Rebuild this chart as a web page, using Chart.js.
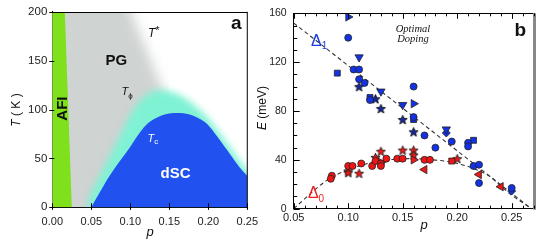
<!DOCTYPE html>
<html>
<head>
<meta charset="utf-8">
<script src="https://cdn.jsdelivr.net/npm/chart.js@4.4.1/dist/chart.umd.min.js"></script>
<style>
    html, body { margin: 0; padding: 0; background: #fff; }
    #wrap { position: relative; width: 545px; height: 248px; overflow: hidden; }
    #panelA { position: absolute; left: 0; top: 0; }
    #panelB { position: absolute; left: 250px; top: 0; }
</style>
</head>
<body>
<div id="wrap">
    <canvas id="panelA" width="266" height="248"></canvas>
    <canvas id="panelB" width="295" height="248"></canvas>
</div>
<script>
// ---- panel a: phase diagram boundaries (p, T in K) ----
const domeP  = [0.05, 0.06, 0.07, 0.08, 0.09, 0.10, 0.11, 0.12, 0.13, 0.14, 0.15, 0.16, 0.17, 0.18, 0.19, 0.20, 0.21, 0.22, 0.23, 0.24, 0.25];
const domeTc = [0, 14, 28, 40, 51, 62, 74, 84, 90, 94, 96, 96.5, 96, 94, 90, 84, 74, 63, 52, 41, 32];

const phiP = [0.04, 0.045, 0.06, 0.07, 0.08, 0.09, 0.10, 0.11, 0.12, 0.13, 0.14, 0.15, 0.16, 0.17, 0.18, 0.19, 0.20, 0.21, 0.22, 0.23, 0.24, 0.25, 0.26];
const phiT = [-30, 0, 31, 47, 63, 79, 95, 107, 115, 119, 120, 119, 116, 112, 106, 99, 91, 81, 70, 59, 48, 38, 32];

const pgP = [-0.01, 0.085, 0.101, 0.142, 0.148, 0.15];
const pgT = [230, 230, 200, 120, 105, -30];

const afiP = [-0.01, 0.0147, 0.0263];
const afiT = [230, 230, -30];

// ---- panel b: gaps E (meV) vs p ----
const blueCircles  = [[0.10, 140], [0.105, 114], [0.11, 114], [0.11, 106], [0.115, 103], [0.12, 89], [0.16, 100], [0.16, 75], [0.17, 60], [0.18, 50], [0.195, 55], [0.21, 54], [0.21, 51], [0.215, 35], [0.22, 36], [0.22, 21], [0.25, 17]];
const blueSquares  = [[0.09, 111], [0.12, 91], [0.16, 73], [0.215, 56]];
const blueDown     = [[0.11, 124], [0.13, 96], [0.15, 85], [0.19, 65]];
const blueRight    = [[0.10, 157], [0.16, 86]];
const blueStars    = [[0.11, 100], [0.125, 90], [0.13, 82], [0.15, 73], [0.16, 63]];
const blueDiamonds = [[0.19, 62], [0.25, 14.5]];

const redCircles = [[0.085, 27], [0.084, 24.5], [0.10, 35], [0.104, 35], [0.112, 37], [0.122, 35], [0.125, 39], [0.13, 37], [0.13, 35], [0.135, 41], [0.145, 41], [0.15, 41], [0.17, 40], [0.175, 40]];
const redStars   = [[0.10, 31], [0.10, 29.5], [0.11, 29], [0.125, 42], [0.13, 47], [0.15, 48], [0.16, 48], [0.16, 44], [0.20, 41]];
const redRight   = [[0.16, 40], [0.13, 38]];
const redLeft    = [[0.17, 32], [0.22, 28], [0.24, 18]];
const redSquares = [[0.195, 39]];

const delta1P = [0.05, 0.268];
const delta1E = [152, 0];
const delta0P = [0.05, 0.06, 0.07, 0.08, 0.09, 0.10, 0.11, 0.12, 0.13, 0.14, 0.15, 0.16, 0.17, 0.18, 0.19, 0.20, 0.21, 0.22, 0.23, 0.24, 0.25, 0.26, 0.268];
const delta0E = [0, 8, 16, 23, 28, 32, 35, 37.5, 39, 40.3, 40.8, 41, 40.5, 39.8, 38.8, 37, 34.5, 31, 26.5, 18.5, 11, 5, 0];

const FONT = '"Liberation Sans", Arial, sans-serif';
const SERIF = '"Liberation Serif", "Times New Roman", serif';

function xy(ps, vs) {
    return ps.map((p, i) => ({ x: p, y: vs[i] }));
}
function pairs(list) {
    return list.map(([x, y]) => ({ x, y }));
}

// Soft edges: blur the fill of datasets that ask for it (runs before the filler)
const softEdge = {
    id: 'softEdge',
    beforeDatasetDraw(chart, args) {
        const ds = chart.data.datasets[args.index];
        if (ds.blur) {
            chart.ctx.save();
            chart.ctx.filter = 'blur(' + ds.blur + 'px)';
        }
    },
    afterDatasetDraw(chart, args) {
        if (chart.data.datasets[args.index].blur) chart.ctx.restore();
    }
};
const fillerPlugin = Chart.registry.getPlugin('filler');
Chart.unregister(fillerPlugin);
Chart.register(softEdge, fillerPlugin);

// Text labels placed in data or pixel coordinates
function makeNotes(items) {
    return {
        id: 'notes',
        afterDraw(chart) {
            const { ctx, scales } = chart;
            items.forEach(n => {
                const cx = n.px !== undefined ? n.px : scales.x.getPixelForValue(n.x);
                const cy = n.py !== undefined ? n.py : scales.y.getPixelForValue(n.y);
                ctx.save();
                ctx.translate(cx, cy);
                if (n.rotate) ctx.rotate(n.rotate * Math.PI / 180);
                ctx.fillStyle = n.color || '#111';
                ctx.textBaseline = 'middle';
                ctx.textAlign = 'left';
                const widths = n.parts.map(p => { ctx.font = p.font; return ctx.measureText(p.t).width; });
                let cur = -widths.reduce((a, b) => a + b, 0) / 2;
                n.parts.forEach((p, i) => {
                    ctx.font = p.font;
                    ctx.fillText(p.t, cur, p.dy || 0);
                    cur += widths[i];
                });
                ctx.restore();
            });
        }
    };
}

// Frame (top/right) and tick marks drawn from the scales
function makeFrame(spec) {
    return {
        id: 'frame',
        afterDraw(chart) {
            const { ctx, chartArea: a, scales } = chart;
            ctx.save();
            ctx.strokeStyle = '#000';
            ctx.lineWidth = 1;
            ctx.beginPath();
            ctx.moveTo(a.left, Math.round(a.top) + 0.5);
            ctx.lineTo(a.right, Math.round(a.top) + 0.5);
            ctx.stroke();
            ctx.strokeStyle = spec.rightColor;
            ctx.lineWidth = spec.rightWidth;
            ctx.beginPath();
            ctx.moveTo(a.right + spec.rightWidth / 2 - 0.5, a.top);
            ctx.lineTo(a.right + spec.rightWidth / 2 - 0.5, a.bottom + 1);
            ctx.stroke();

            ctx.strokeStyle = '#000';
            ctx.lineWidth = 1;
            spec.ticks.forEach(t => {
                const sc = scales[t.edge === 'left' || t.edge === 'right' ? 'y' : 'x'];
                const i0 = Math.ceil(sc.min / t.step - 1e-6);
                const i1 = Math.floor(sc.max / t.step + 1e-6);
                for (let i = i0; i <= i1; i++) {
                    const pos = Math.round(sc.getPixelForValue(i * t.step)) + 0.5;
                    ctx.beginPath();
                    if (t.edge === 'bottom') {
                        ctx.moveTo(pos, a.bottom - t.from);
                        ctx.lineTo(pos, a.bottom - t.to);
                    } else if (t.edge === 'top') {
                        ctx.moveTo(pos, a.top + t.from);
                        ctx.lineTo(pos, a.top + t.to);
                    } else if (t.edge === 'left') {
                        ctx.moveTo(a.left + t.from, pos);
                        ctx.lineTo(a.left + t.to, pos);
                    }
                    ctx.stroke();
                }
            });
            ctx.restore();
        }
    };
}

function starImage(fill, stroke) {
    const c = document.createElement('canvas');
    c.width = 11;
    c.height = 11;
    const g = c.getContext('2d');
    g.beginPath();
    for (let i = 0; i < 10; i++) {
        const r = i % 2 ? 2.1 : 4.8;
        const ang = -Math.PI / 2 + i * Math.PI / 5;
        g.lineTo(5.5 + r * Math.cos(ang), 6 + r * Math.sin(ang));
    }
    g.closePath();
    g.fillStyle = fill;
    g.fill();
    g.lineWidth = 0.9;
    g.strokeStyle = stroke;
    g.stroke();
    return c;
}

// ---------------- panel a ----------------
const notesA = [
    { x: 0.236, y: 188, parts: [{ t: 'a', font: 'bold 19px ' + FONT }] },
    { x: 0.130, y: 178, parts: [{ t: 'T', font: 'italic 12px ' + FONT }, { t: '*', font: '11px ' + FONT, dy: -2 }] },
    { x: 0.082, y: 150, parts: [{ t: 'PG', font: 'bold 15px ' + FONT }] },
    { x: 0.096, y: 118, parts: [{ t: 'T', font: 'italic 11px ' + FONT }, { t: 'ϕ', font: '8px ' + FONT, dy: 4 }] },
    { x: 0.0135, y: 101, rotate: -90, parts: [{ t: 'AFI', font: 'bold 15px ' + FONT }] },
    { x: 0.129, y: 70, color: '#fff', parts: [{ t: 'T', font: 'italic 11px ' + FONT }, { t: 'c', font: '8px ' + FONT, dy: 3 }] },
    { x: 0.158, y: 34, color: '#fff', parts: [{ t: 'dSC', font: 'bold 15px ' + FONT }] },
    { px: 17, py: 110, rotate: -90, parts: [{ t: 'T', font: 'italic 12px ' + FONT }, { t: ' ( K )', font: '12px ' + FONT }] },
    { px: 150, py: 232, parts: [{ t: 'p', font: 'italic 13px ' + FONT }] }
];

new Chart(document.getElementById('panelA'), {
    type: 'scatter',
    data: {
        datasets: [
            // listed top layer first
            { data: xy(afiP, afiT), showLine: true, fill: { value: -40 }, backgroundColor: '#7fe01c', borderWidth: 0, pointRadius: 0 },
            { data: xy(domeP, domeTc), showLine: true, fill: { value: -40 }, backgroundColor: '#2152f0', borderWidth: 0, pointRadius: 0, cubicInterpolationMode: 'monotone' },
            { data: xy(phiP, phiT), showLine: true, fill: { value: -40 }, backgroundColor: '#80f2d4', borderWidth: 0, pointRadius: 0, cubicInterpolationMode: 'monotone', blur: 3.5 },
            { data: xy(pgP, pgT), showLine: true, fill: { value: -40 }, backgroundColor: '#cfd3d2', borderWidth: 0, pointRadius: 0, blur: 6 }
        ]
    },
    options: {
        responsive: false,
        animation: false,
        layout: { padding: { left: 0, top: 10, right: 17.7, bottom: 0 } },
        plugins: { legend: { display: false }, tooltip: { enabled: false } },
        scales: {
            x: {
                type: 'linear', min: 0, max: 0.25,
                afterFit: s => { s.height = 40.7; },
                grid: { display: false, drawTicks: false },
                border: { display: true, color: '#000', width: 1 },
                ticks: { stepSize: 0.05, padding: 8, color: '#222', font: { family: FONT, size: 11 }, callback: v => v.toFixed(2) }
            },
            y: {
                min: 0, max: 200,
                afterFit: s => { s.width = 52.3; },
                grid: { display: false, drawTicks: false },
                border: { display: true, color: '#000', width: 1 },
                ticks: { stepSize: 50, padding: 5, color: '#222', font: { family: FONT, size: 11.5 } }
            }
        }
    },
    plugins: [
        makeFrame({
            rightColor: '#000', rightWidth: 1,
            ticks: [
                { edge: 'bottom', step: 0.05, from: -2.5, to: 4 },
                { edge: 'left', step: 50, from: -3, to: 2 }
            ]
        }),
        makeNotes(notesA)
    ]
});

// ---------------- panel b ----------------
const BLUE = '#1232e4';
const RED = '#ee1515';
const EDGE = '#222';
const blueStar = starImage('#14289e', '#111');
const redStar = starImage(RED, '#222');

function markers(list, color, style, radius, rotation) {
    return {
        data: pairs(list), pointStyle: style, pointRadius: radius, rotation: rotation || 0,
        backgroundColor: color, borderColor: EDGE, borderWidth: 0.8
    };
}

const notesB = [
    { x: 0.258, y: 146, parts: [{ t: 'b', font: 'bold 19px ' + FONT }] },
    { x: 0.1594, y: 147, parts: [{ t: 'Optimal', font: 'italic 10.5px ' + SERIF }] },
    { x: 0.1594, y: 139, parts: [{ t: 'Doping', font: 'italic 10.5px ' + SERIF }] },
    { x: 0.0733, y: 137, color: '#1d3ae8', parts: [{ t: 'Δ', font: '16px ' + FONT }, { t: '1', font: '10px ' + FONT, dy: 5 }] },
    { x: 0.0705, y: 12, color: '#ee2020', parts: [{ t: 'Δ', font: '16px ' + FONT }, { t: '0', font: '10px ' + FONT, dy: 5 }] },
    { px: 13, py: 108, rotate: -90, parts: [{ t: 'E', font: 'italic 12px ' + FONT }, { t: ' (meV)', font: '12px ' + FONT }] },
    { px: 174, py: 225, parts: [{ t: 'p', font: 'italic 13px ' + FONT }] }
];

new Chart(document.getElementById('panelB'), {
    type: 'scatter',
    data: {
        datasets: [
            markers(blueCircles, BLUE, 'circle', 3.5),
            markers(blueSquares, BLUE, 'rect', 4.2),
            markers(blueDown, BLUE, 'triangle', 4.8, 180),
            markers(blueRight, BLUE, 'triangle', 4.8, 90),
            markers(blueDiamonds, BLUE, 'rectRot', 4),
            { data: pairs(blueStars), pointStyle: blueStar, pointRadius: 5 },
            markers(redCircles, RED, 'circle', 3.5),
            markers(redSquares, RED, 'rect', 4.2),
            markers(redRight, RED, 'triangle', 4.8, 90),
            markers(redLeft, RED, 'triangle', 4.8, -90),
            { data: pairs(redStars), pointStyle: redStar, pointRadius: 5 },
            { data: xy(delta1P, delta1E), showLine: true, borderColor: '#333', borderWidth: 1.1, borderDash: [4, 3], pointRadius: 0, fill: false },
            { data: xy(delta0P, delta0E), showLine: true, borderColor: '#333', borderWidth: 1.1, borderDash: [4, 3], pointRadius: 0, fill: false, cubicInterpolationMode: 'monotone' }
        ]
    },
    options: {
        responsive: false,
        animation: false,
        layout: { padding: { left: 0, top: 10, right: 11.5, bottom: 0 } },
        plugins: { legend: { display: false }, tooltip: { enabled: false } },
        scales: {
            x: {
                type: 'linear', min: 0.05, max: 0.27,
                afterFit: s => { s.height = 39.3; },
                grid: { display: false, drawTicks: false },
                border: { display: true, color: '#000', width: 1 },
                ticks: {
                    stepSize: 0.05, includeBounds: false, autoSkip: false, padding: 3, color: '#222', font: { family: FONT, size: 11 },
                    callback: v => Math.abs(v / 0.05 - Math.round(v / 0.05)) < 1e-6 ? v.toFixed(2) : null
                }
            },
            y: {
                min: 0, max: 160,
                afterFit: s => { s.width = 43.7; },
                grid: { display: false, drawTicks: false },
                border: { display: true, color: '#000', width: 1 },
                ticks: { stepSize: 40, padding: 7, color: '#222', font: { family: FONT, size: 10.5 } }
            }
        }
    },
    plugins: [
        makeFrame({
            rightColor: '#888', rightWidth: 3,
            ticks: [
                { edge: 'bottom', step: 0.05, from: 0, to: 5.5 },
                { edge: 'bottom', step: 0.01, from: 0, to: 3 },
                { edge: 'top', step: 0.05, from: 0, to: 5.5 },
                { edge: 'top', step: 0.01, from: 0, to: 3 },
                { edge: 'left', step: 40, from: 0, to: 6 },
                { edge: 'left', step: 10, from: 0, to: 3.5 }
            ]
        }),
        makeNotes(notesB)
    ]
});
</script>
</body>
</html>
